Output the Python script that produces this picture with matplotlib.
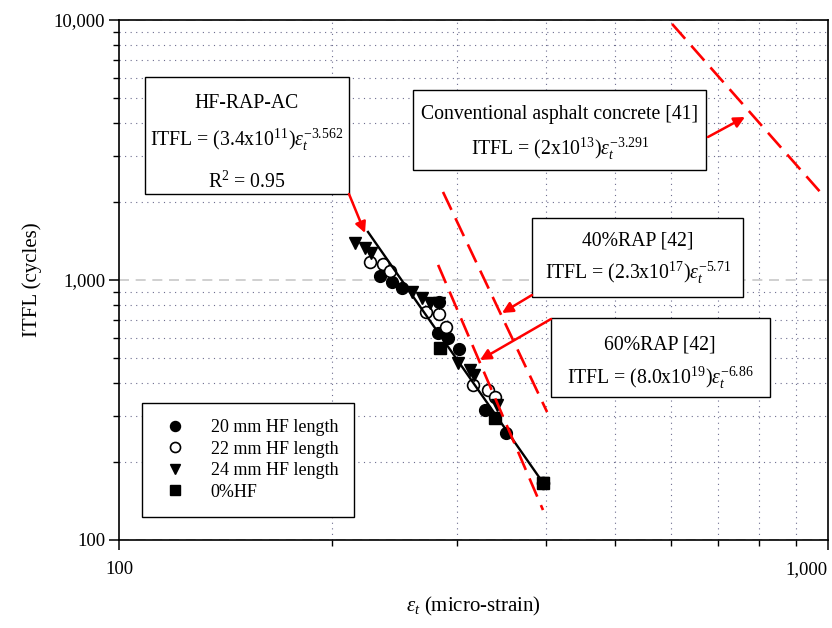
import matplotlib
matplotlib.use('Agg')
import matplotlib.pyplot as plt
from matplotlib.patches import Rectangle
from matplotlib.ticker import FixedLocator, FixedFormatter, NullFormatter

plt.rcParams['font.family'] = ['Liberation Serif', 'DejaVu Serif']
plt.rcParams['mathtext.fontset'] = 'custom'
plt.rcParams['mathtext.rm'] = 'Liberation Serif'
plt.rcParams['mathtext.it'] = 'Liberation Serif:italic'
plt.rcParams['mathtext.bf'] = 'Liberation Serif:bold'

# ---------------- data ----------------
hf20_x = [233.4, 242.7, 250.7, 282.7, 281.8, 291.1, 301.6, 328.2, 351.5, 396.3]
hf20_y = [1036, 982, 932, 823, 625, 598, 543, 316, 258, 166]

hf22_x = [226.0, 235.6, 241.1, 271.0, 282.7, 289.2, 315.8, 331.5, 339.1, 396.3]
hf22_y = [1173, 1152, 1083, 753, 740, 660, 395, 378, 355, 166]

hf24_x = [215.1, 222.3, 226.7, 259.0, 267.5, 274.6, 282.7, 300.7, 312.7, 316.8, 341.4, 396.3]
hf24_y = [1388, 1328, 1270, 899, 853, 816, 816, 479, 451, 431, 331, 166]

hf0_x = [283.6, 339.1, 396.3]
hf0_y = [548, 295, 166]

fit_x = [224.5, 396.3]
fit_y = [1530, 166]

conv_x = [602.6, 980.6]
conv_y = [9660, 2142]
rap40_x = [286.4, 401.6]
rap40_y = [2181, 310.6]
rap60_x = [281.9, 396.3]
rap60_y = [1143, 130.4]

legend_labels = ['20 mm HF length', '22 mm HF length', '24 mm HF length', '0%HF']
x_ticks = [100, 1000]
x_ticklabels = ['100', '1,000']
y_ticks = [100, 1000, 10000]
y_ticklabels = ['100', '1,000', '10,000']

# ---------------- figure ----------------
W, H = 832, 628
fig = plt.figure(figsize=(W / 100, H / 100), dpi=100)
ax = fig.add_axes([119 / W, (H - 540) / H, 709 / W, 520 / H])
ax.set_xscale('log')
ax.set_yscale('log')
ax.set_xlim(100, 1000)
ax.set_ylim(100, 10000)

def fp(x, y):
    return (x / W, 1 - y / H)

# grid
ax.set_axisbelow(True)
ax.grid(which='minor', axis='both', color='#6d6d8f', linestyle=(0, (1, 4)), lw=0.8)
ax.grid(which='major', axis='y', color='#c8c8c8', linestyle=(0, (6, 4)), lw=1.2)
ax.grid(which='major', axis='x', visible=False)

# reference lines
ax.plot(conv_x, conv_y, color='red', lw=1.9, dashes=(7.5, 3.5), zorder=4)
ax.plot(rap40_x, rap40_y, color='red', lw=1.9, dashes=(7.5, 3.5), zorder=4)
ax.plot(rap60_x, rap60_y, color='red', lw=1.9, dashes=(7.5, 3.5), zorder=4)

ms = 8.5
h1, = ax.plot(hf20_x, hf20_y, 'o', color='black', ms=ms, zorder=3, label=legend_labels[0])
h2, = ax.plot(hf22_x, hf22_y, 'o', mfc='white', mec='black', mew=1.2, ms=ms, zorder=3, label=legend_labels[1])
h3, = ax.plot(hf24_x, hf24_y, 'v', color='black', ms=ms, zorder=3, label=legend_labels[2])
h4, = ax.plot(hf0_x, hf0_y, 's', color='black', ms=ms - 0.5, zorder=3, label=legend_labels[3])
ax.plot(fit_x, fit_y, color='black', lw=1.7, zorder=3.5)

# ticks
ax.xaxis.set_major_locator(FixedLocator(x_ticks))
ax.xaxis.set_major_formatter(FixedFormatter(x_ticklabels))
ax.xaxis.set_minor_locator(FixedLocator([200, 300, 400, 500, 600, 700, 800, 900]))
ax.xaxis.set_minor_formatter(NullFormatter())
ax.yaxis.set_major_locator(FixedLocator(y_ticks))
ax.yaxis.set_major_formatter(FixedFormatter(y_ticklabels))
ax.yaxis.set_minor_locator(FixedLocator([200, 300, 400, 500, 600, 700, 800, 900,
                                         2000, 3000, 4000, 5000, 6000, 7000, 8000, 9000]))
ax.yaxis.set_minor_formatter(NullFormatter())
ax.tick_params(which='major', direction='out', length=7, width=1.1, labelsize=13.5)
ax.tick_params(which='minor', direction='out', length=4, width=1.0)
ax.tick_params(axis='x', which='major', pad=8)
ax.tick_params(axis='y', which='major', pad=3)
labs = ax.get_xticklabels()
labs[-1].set_horizontalalignment('right')
for s in ax.spines.values():
    s.set_linewidth(1.2)

ax.set_xlabel(r'$\varepsilon_t$ (micro-strain)', fontsize=15, labelpad=12)
ax.set_ylabel('ITFL (cycles)', fontsize=15, labelpad=8)

# legend
leg = ax.legend(handles=[h1, h2, h3, h4], loc='lower left', bbox_to_anchor=(0.0324, 0.0442),
                frameon=True, fancybox=False, edgecolor='black', framealpha=1,
                fontsize=13, borderpad=0.9, labelspacing=0.25, handlelength=1.9,
                handletextpad=1.0, borderaxespad=0, markerscale=0.85)
leg.get_frame().set_linewidth(1.0)

# text boxes (figure pixels: left, top, right, bottom)
def box(l, t, r, b):
    x0, y0 = fp(l, b)
    x1, y1 = fp(r, t)
    fig.add_artist(Rectangle((x0, y0), x1 - x0, y1 - y0, transform=fig.transFigure,
                             facecolor='white', edgecolor='black', lw=1.0, zorder=5))

def txt(x, y, s):
    fig.text(*fp(x, y), s, ha='center', va='center', fontsize=14.2, zorder=6)

box(145, 77, 349, 194)
txt(247, 104, 'HF-RAP-AC')
txt(247, 140, r'ITFL = (3.4x10$^{11}$)$\varepsilon_t^{-3.562}$')
txt(247, 182, r'R$^2$ = 0.95')

box(413, 90, 706, 170)
txt(560, 115, 'Conventional asphalt concrete [41]')
txt(560, 149, r'ITFL = (2x10$^{13}$)$\varepsilon_t^{-3.291}$')

box(532, 218, 743, 297)
txt(638, 241, '40%RAP [42]')
txt(638, 273, r'ITFL = (2.3x10$^{17}$)$\varepsilon_t^{-5.71}$')

box(551, 318, 770, 397)
txt(660, 345, '60%RAP [42]')
txt(660, 378, r'ITFL = (8.0x10$^{19}$)$\varepsilon_t^{-6.86}$')

# arrows
def arrow(x0, y0, x1, y1):
    fig.add_artist(matplotlib.patches.FancyArrowPatch(
        fp(x0, y0), fp(x1, y1), transform=fig.transFigure, arrowstyle='-|>',
        mutation_scale=16, color='red', lw=1.8, shrinkA=0, shrinkB=0, zorder=7))

arrow(349, 194, 365, 233)
arrow(708, 137, 745, 117)
arrow(532, 295, 502, 313)
arrow(551, 319, 480, 360)

fig.savefig('out.png', dpi=100)
